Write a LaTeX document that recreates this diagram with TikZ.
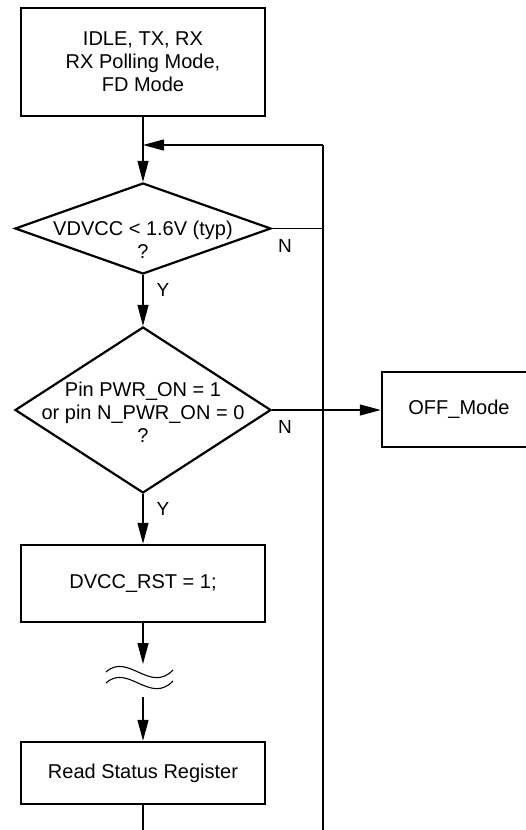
\documentclass[tikz,border=0pt]{standalone}
\usepackage{fontspec}
\setmainfont{Liberation Sans}
\usetikzlibrary{arrows.meta,positioning,shapes.geometric}
\tikzset{
  fbox/.style    ={rectangle, draw=black, line width=2.5pt, minimum width=244pt,
                   inner sep=0pt, align=center, font=\fontsize{20}{23}\selectfont},
  fdec/.style    ={diamond, draw=black, line width=2.2pt, minimum width=256pt, inner sep=0pt},
  fdectext/.style={align=center, inner sep=0pt, font=\fontsize{20}{23}\selectfont},
  fline/.style   ={line width=1.3pt},
  fdir/.style    ={fline, -{Triangle[length=21pt, width=11pt]}},
  fwave/.style   ={line width=1.1pt},
  fyn/.style     ={inner sep=0pt, font=\fontsize{19}{19}\selectfont},
}

\begin{document}
\begin{tikzpicture}[x=1pt, y=-1pt]
\useasboundingbox (0,0) rectangle (525,830);
\node[fbox, minimum height=108pt] (modes) at (143,62) {IDLE, TX, RX\\RX Polling Mode,\\FD Mode};
\node[fdec, minimum height=91pt] (vcheck) at (143,228.5) {};
\node[fdectext] (vcheckt) at (143,240) {VDVCC < 1.6V (typ)\\?};
\node[fdec, minimum height=166pt] (pwrcheck) at (143,410) {};
\node[fdectext] (pwrcheckt) at (143,412) {Pin PWR\_ON = 1\\or pin N\_PWR\_ON = 0\\?};
\node[fbox, minimum width=154pt, minimum height=75pt] (offmode) at (459,409.5) {OFF\_Mode};
\node[fbox, minimum height=77pt] (rst) at (143,583.5) {DVCC\_RST = 1;};
\node[fbox, minimum height=62pt] (status) at (143,773) {Read Status Register};
\node[fyn] (vno) at (285,246) {N};
\node[fyn] (pwrno) at (285,427) {N};
% loop back and break points
\coordinate (joinT) at (143,145);
\coordinate (loopT) at (323,145);
\coordinate (loopB) at (323,830);
\coordinate (brkin) at (143,664);
\coordinate (brkout) at (143,697);
\coordinate (exit) at (143,830);

\draw[fdir] (modes) -- (vcheck);
\draw[fline] (loopB) -- (loopT);
\draw[fdir] (loopT) -- (joinT);
\draw[fline] (vcheck.east) -- (vcheck.east -| loopT);
\draw[fdir] (vcheck) -- node[fyn, pos=0.3, right=13pt] {Y} (pwrcheck);
\draw[fdir] (pwrcheck.east) -- (pwrcheck.east -| offmode.west);
\draw[fdir] (pwrcheck) -- node[fyn, pos=0.3, right=13pt] {Y} (rst);
\draw[fdir] (rst) -- (brkin);
\draw[fwave] (106,672) .. controls (128,652) and (150,694) .. (173,670);
\draw[fwave] (106,683) .. controls (128,663) and (150,705) .. (173,681);
\draw[fdir] (brkout) -- (status);
\draw[fline] (status) -- (exit);
\end{tikzpicture}
\end{document}
